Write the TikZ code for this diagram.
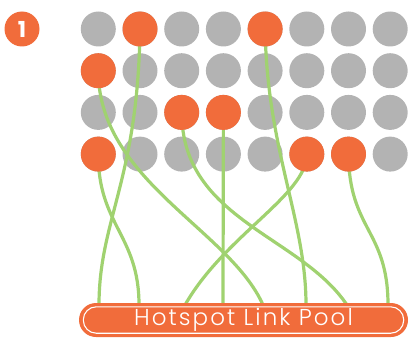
\documentclass[tikz,border=0pt]{standalone}
\usepackage{fontspec}
\setmainfont{Poppins}
\newfontfamily\poolfont{Poppins}[UprightFont={* Light},LetterSpace=9]
\usetikzlibrary{calc}
\definecolor{hotorange}{RGB}{241,108,59}
\definecolor{dotgrey}{RGB}{179,179,179}
\definecolor{linkgreen}{RGB}{160,210,112}
\pgfdeclarelayer{background}
\pgfdeclarelayer{lines}
\pgfsetlayers{background,lines,main}
\begin{document}
\begin{tikzpicture}[x=1pt,y=-1pt,
  dot/.style={circle,minimum size=35pt,inner sep=0pt},
  idle/.style={dot,fill=dotgrey},
  hot/.style={dot,fill=hotorange},
  link/.style={draw=linkgreen,line width=3.2pt},
  pool/.style={fill=hotorange,rounded corners=17pt,minimum width=329pt,
    minimum height=34pt,inner sep=0pt,text=white,
    font=\poolfont\fontsize{23}{23}\selectfont}]
\useasboundingbox (0,0) rectangle (409,337);

% grid of idle cells
\begin{pgfonlayer}{background}
\foreach \r in {1,...,4}
  \foreach \c in {1,...,8}
    \node[idle] (g\r\c) at ({56.6+41.7*\c},{-12.7+41.7*\r}) {};
\end{pgfonlayer}

% hotspot cells
\foreach \r/\c in {1/2,1/5,2/1,3/3,3/4,4/1,4/6,4/7}
  \node[hot] (h\r\c) at (g\r\c.center) {};

% step badge
\node[hot,text=white,font=\bfseries\fontsize{22}{22}\selectfont] (badge) at (22,29) {1};

% pool
\node[pool] (pool) at (243.5,320) {Hotspot Link Pool};
\draw[white,line width=1.1pt,rounded corners=13pt]
  ($(pool.north west)+(4.5pt,-4pt)$) rectangle ($(pool.south east)+(-4.5pt,4pt)$);

% attachment points on the pool
\foreach \i/\x in {1/99,2/139,3/185,4/223,5/263,6/306,7/347,8/388}
  \coordinate (a\i) at (\x,305);

% links
\begin{pgfonlayer}{lines}
\draw[link] (h41.center) .. controls (98,225) and (139,235) .. (a2);
\draw[link] (h12.center) .. controls (138,180) and (99,220) .. (a1);
\draw[link] (h21.center) .. controls (98,180) and (230,230) .. (a5);
\draw[link] (h33.center) .. controls (182,220) and (300,235) .. (a7);
\draw[link] (h34.center) -- (a4);
\draw[link] (h15.center) .. controls (267,150) and (306,220) .. (a6);
\draw[link] (h46.center) .. controls (307,195) and (225,235) .. (a3);
\draw[link] (h47.center) .. controls (349,230) and (388,230) .. (a8);
\end{pgfonlayer}
\end{tikzpicture}
\end{document}
